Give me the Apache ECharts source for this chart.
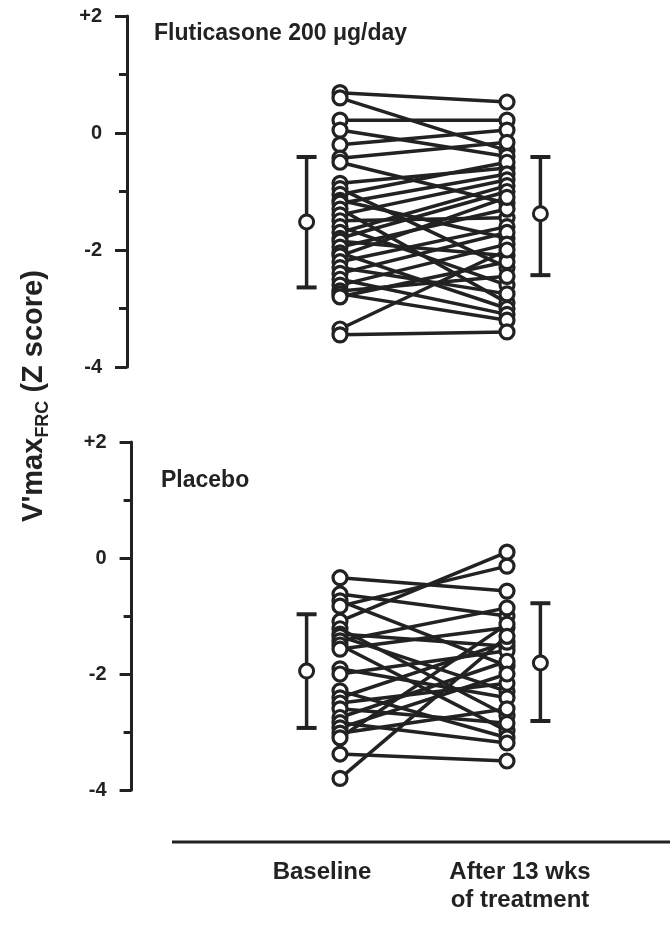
<!DOCTYPE html>
<html><head><meta charset="utf-8">
<script src="https://cdn.jsdelivr.net/npm/echarts@6/dist/echarts.min.js"></script>
<style>html,body{margin:0;padding:0;background:#fff}#c{width:670px;height:931px}</style>
</head><body><div id="c"></div>
<script>
// ---- data ----
const timepoints = ['Baseline', 'After 13 wks\nof treatment'];
const panelTitles = ['Fluticasone 200 \u03bcg/day', 'Placebo'];
const yTickLabels = {'2': '+2', '0': '0', '-2': '-2', '-4': '-4'};
const subjectX = [0, 1];        // baseline, after
const summaryX = [-0.2, 1.2];   // mean ± SD markers beside each column

const flutBaseline = [0.69, 0.6, 0.22, 0.05, -0.2, -0.43, -0.5, -0.86, -0.95, -1.05, -1.15, -1.2, -1.3, -1.4, -1.5, -1.6,
  -1.7, -1.8, -1.85, -1.95, -2.05, -2.1, -2.2, -2.3, -2.4, -2.5, -2.6, -2.7, -2.75, -2.8, -3.35, -3.45];
const flutAfter = [0.53, -0.3, 0.22, -0.4, 0.05, -0.16, -1.2, -0.6, -2.3, -0.5, -1.8, -0.7, -2.9, -0.8, -1.45, -2.6,
  -0.9, -1.0, -2.1, -1.3, -3.0, -1.1, -1.6, -2.75, -1.7, -3.1, -1.9, -2.45, -3.2, -2.2, -2.0, -3.4];

const placBaseline = [-0.34, -0.62, -0.74, -0.83, -1.09, -1.22, -1.31, -1.35, -1.43, -1.5, -1.57, -1.91, -2.0, -2.29,
  -2.41, -2.5, -2.6, -2.75, -2.84, -2.93, -3.02, -3.1, -3.38, -3.8];
const placAfter = [-0.57, -1.0, -1.86, -0.14, 0.1, -2.72, -1.52, -2.3, -0.86, -2.98, -1.2, -2.41, -1.6, -3.1,
  -1.45, -2.16, -2.85, -1.78, -3.19, -2.0, -2.6, -1.14, -3.5, -1.35];

const flutMean = [-1.52, -1.38];
const flutUpper = [-0.41, -0.41];
const flutLower = [-2.64, -2.43];
const placMean = [-1.95, -1.81];
const placUpper = [-0.97, -0.78];
const placLower = [-2.93, -2.81];

// ---- chart ----
const INK = '#222';
const FONT = '"Liberation Sans", Arial, sans-serif';
const chart = echarts.init(document.getElementById('c'), null, {renderer: 'canvas'});

const panels = [
  {base: flutBaseline, after: flutAfter, mean: flutMean, up: flutUpper, lo: flutLower},
  {base: placBaseline, after: placAfter, mean: placMean, up: placUpper, lo: placLower}
];

const series = [];
panels.forEach((p, gi) => {
  p.base.forEach((b, i) => {
    series.push({
      type: 'line', xAxisIndex: gi, yAxisIndex: gi, silent: true, animation: false,
      showSymbol: false, symbol: 'none', z: 2,
      lineStyle: {color: INK, width: 3.5},
      data: [[subjectX[0], b], [subjectX[1], p.after[i]]]
    });
  });
  const pts = [];
  p.base.forEach((b, i) => { pts.push([subjectX[0], b]); pts.push([subjectX[1], p.after[i]]); });
  series.push({
    type: 'scatter', xAxisIndex: gi, yAxisIndex: gi, silent: true, animation: false, z: 3,
    symbol: 'circle', symbolSize: 14,
    itemStyle: {color: '#fff', borderColor: INK, borderWidth: 3.2, opacity: 1},
    data: pts
  });
  series.push({
    type: 'custom', xAxisIndex: gi, yAxisIndex: gi, silent: true, animation: false, z: 4, clip: false,
    data: summaryX.map((x, k) => [x, p.up[k], p.lo[k], p.mean[k]]),
    renderItem: function (params, api) {
      const top = api.coord([api.value(0), api.value(1)]);
      const bot = api.coord([api.value(0), api.value(2)]);
      const mid = api.coord([api.value(0), api.value(3)]);
      const cw = 10;
      return {type: 'group', children: [
        {type: 'line', shape: {x1: top[0], y1: top[1], x2: bot[0], y2: bot[1]}, style: {stroke: INK, lineWidth: 3.5}},
        {type: 'line', shape: {x1: top[0] - cw, y1: top[1], x2: top[0] + cw, y2: top[1]}, style: {stroke: INK, lineWidth: 4}},
        {type: 'line', shape: {x1: bot[0] - cw, y1: bot[1], x2: bot[0] + cw, y2: bot[1]}, style: {stroke: INK, lineWidth: 4}},
        {type: 'circle', shape: {cx: mid[0], cy: mid[1], r: 7}, style: {fill: '#fff', stroke: INK, lineWidth: 3}}
      ]};
    }
  });
});

const yAxisCommon = {
  type: 'value', min: -4, max: 2, interval: 2, position: 'left',
  axisLine: {show: true, onZero: false, lineStyle: {color: INK, width: 3}},
  axisTick: {show: true, length: 12, lineStyle: {color: INK, width: 3}},
  minorTick: {show: true, splitNumber: 2, length: 8, lineStyle: {color: INK, width: 3}},
  splitLine: {show: false},
  axisLabel: {formatter: v => yTickLabels[String(v)], fontSize: 20, fontWeight: 'bold', color: INK, fontFamily: FONT, margin: 25}
};

chart.setOption({
  backgroundColor: '#fff',
  animation: false,
  grid: [
    {left: 306.6, width: 233.8, top: 16, height: 351},
    {left: 306.6, width: 233.8, top: 442, height: 348}
  ],
  xAxis: [0, 1].map(gi => ({gridIndex: gi, type: 'value', min: -0.2, max: 1.2, show: false})),
  yAxis: [
    Object.assign({gridIndex: 0, offset: 179.6}, yAxisCommon),
    Object.assign({gridIndex: 1, offset: 175}, yAxisCommon)
  ],
  series: series,
  graphic: [
    {type: 'text', left: 154, top: 22, silent: true,
      style: {text: panelTitles[0], fontSize: 23, fontWeight: 'bold', fontFamily: FONT, fill: INK}},
    {type: 'text', left: 161, top: 469, silent: true,
      style: {text: panelTitles[1], fontSize: 23, fontWeight: 'bold', fontFamily: FONT, fill: INK}},
    {type: 'text', x: 34, y: 396, rotation: Math.PI / 2, silent: true,
      style: {text: "{a|V'max}{s|FRC}{a| (Z score)}", align: 'center', verticalAlign: 'middle', fill: INK,
        rich: {
          a: {fontSize: 29, fontWeight: 'bold', fontFamily: FONT, fill: INK, lineHeight: 36, verticalAlign: 'middle'},
          s: {fontSize: 18, fontWeight: 'bold', fontFamily: FONT, fill: INK, lineHeight: 36, verticalAlign: 'bottom'}
        }}},
    {type: 'line', silent: true, shape: {x1: 172, y1: 842, x2: 670, y2: 842}, style: {stroke: INK, lineWidth: 3}},
    {type: 'text', x: 322, y: 872, silent: true,
      style: {text: timepoints[0], align: 'center', verticalAlign: 'middle', fontSize: 24, fontWeight: 'bold', fontFamily: FONT, fill: INK}},
    {type: 'text', x: 520, y: 886, silent: true,
      style: {text: timepoints[1], align: 'center', verticalAlign: 'middle', fontSize: 24, lineHeight: 28, fontWeight: 'bold', fontFamily: FONT, fill: INK}}
  ]
});
</script>
</body></html>
